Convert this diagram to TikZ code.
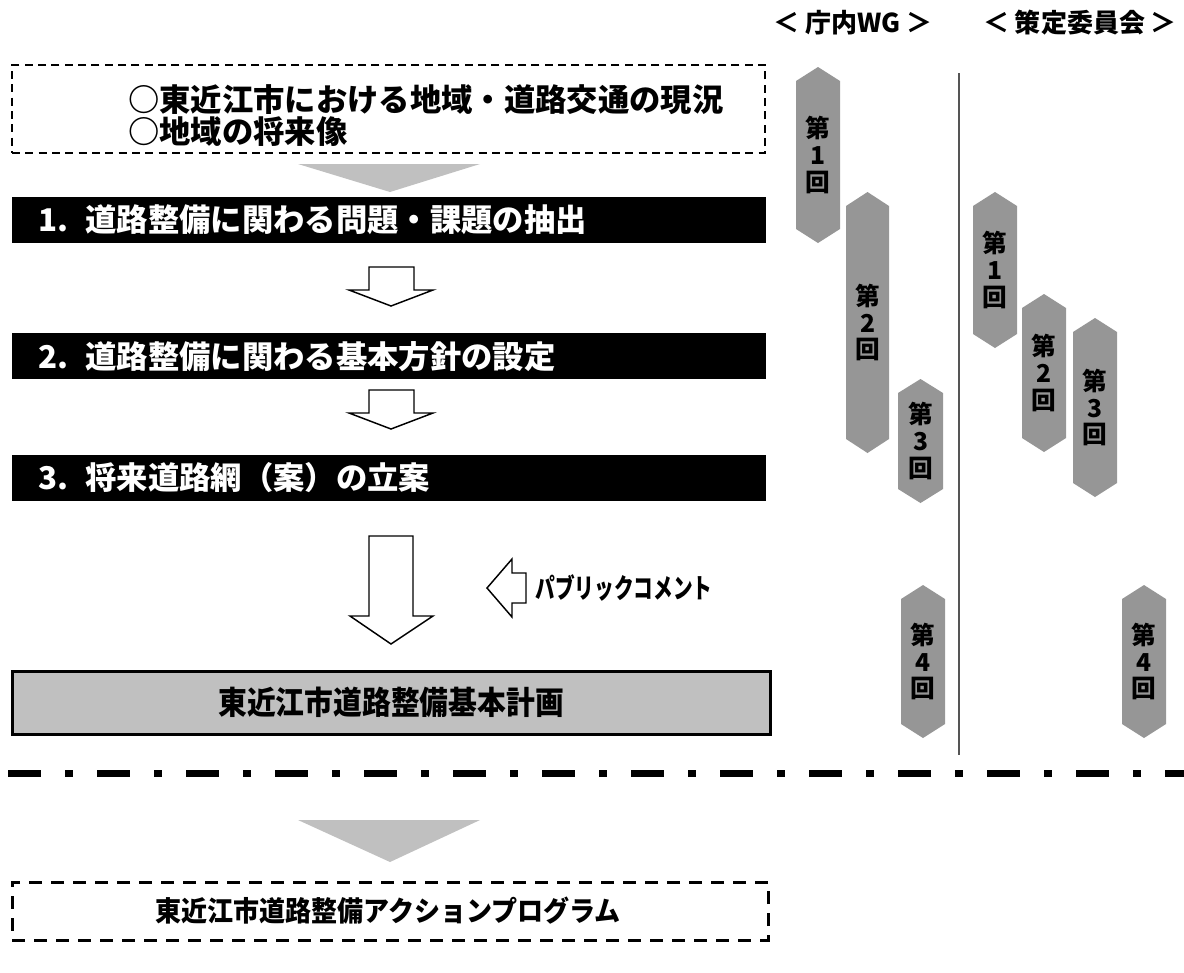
\documentclass[tikz,border=0pt]{standalone}
\usepackage{fontspec}
\setmainfont{Noto Sans CJK JP}
\definecolor{lgray}{HTML}{C0C0C0}
\definecolor{hgray}{HTML}{969696}
\definecolor{sepgray}{HTML}{555555}
\newcommand{\hexa}[6]{%
  \fill[hgray] (#2,#4+14) -- ({(#2+#3)/2},#4) -- (#3,#4+14) -- (#3,#5-14) -- ({(#2+#3)/2},#5) -- (#2,#5-14) -- cycle;
  \node[hextext] (#1) at ({(#2+#3)/2},{(#4+#5)/2}) {第\\#6\\回};}
\tikzset{
  jp/.style={inner sep=0pt, font=\fontsize{#1}{#1}\selectfont\bfseries},
  hextext/.style={inner sep=0pt, align=center, font=\fontsize{18.5pt}{20pt}\selectfont\bfseries},
  barbox/.style={fill=black, draw=black, minimum width=564.75pt, minimum height=33.75pt, inner sep=0pt},
  blockarrow/.style={draw=black, fill=white, line width=1.1pt, line join=miter},
}
\begin{document}
\begin{tikzpicture}[x=0.75pt,y=-0.75pt]
\useasboundingbox (0,0) rectangle (1184,972);

% headers
\node[jp=19.5pt] (hwg) at (853,23) {＜ 庁内WG ＞};
\node[jp=19.5pt] (hcm) at (1080,23) {＜ 策定委員会 ＞};

% top dashed box
\node[draw, line width=1.1pt, dash pattern=on 6pt off 4pt, minimum width=564.75pt, minimum height=66pt, inner sep=0pt] (top) at (388.5,109) {};
\node[jp=23.5pt, anchor=west] (t1) at (128,100) {○東近江市における地域・道路交通の現況};
\node[jp=23.5pt, anchor=west] (t2) at (128,132) {○地域の将来像};

\fill[lgray] (298,164) -- (480,164) -- (390,192) -- cycle;

% bars
\node[barbox] (b1) at (388.5,219.5) {};
\node[jp=23.5pt, anchor=west, text=white] (b1t) at (38,220) {1.\hspace{0.55em}道路整備に関わる問題・課題の抽出};
\node[barbox] (b2) at (388.5,356) {};
\node[jp=23.5pt, anchor=west, text=white] (b2t) at (38,357) {2.\hspace{0.55em}道路整備に関わる基本方針の設定};
\node[barbox] (b3) at (388.5,477.5) {};
\node[jp=23.5pt, anchor=west, text=white] (b3t) at (38,478) {3.\hspace{0.55em}将来道路網（案）の立案};

% block arrows
\draw[blockarrow] (369,267) -- (414,267) -- (414,290) -- (433,290) -- (391,306) -- (349,290) -- (369,290) -- cycle;
\draw[blockarrow] (369,390) -- (414,390) -- (414,413) -- (433,413) -- (391,429) -- (349,413) -- (369,413) -- cycle;
\draw[blockarrow] (369,536) -- (413,536) -- (413,616) -- (433,616) -- (391,644) -- (350,616) -- (369,616) -- cycle;
\draw[blockarrow] (487,588) -- (512,559) -- (512,573) -- (526,573) -- (526,603) -- (512,603) -- (512,617) -- cycle;
\node[inner sep=0pt, font=\fontsize{20.5pt}{20.5pt}\selectfont\bfseries] (pc) at (624,588) {\scalebox{0.72}[1]{パブリックコメント}};

% final plan box
\node[draw=black, fill=lgray, line width=2.25pt, minimum width=568.5pt, minimum height=47.25pt, inner sep=0pt] (plan) at (391,702.5) {};
\node[inner sep=0pt, font=\fontsize{24pt}{24pt}\selectfont\bfseries] (plant) at (391,702) {\scalebox{0.9}[1]{東近江市道路整備基本計画}};

% separator
\draw[sepgray, line width=1.1pt] (959,73) -- (959,755);

% hexagons
\hexa{w1}{796}{840}{67}{243}{1}
\hexa{w2}{846}{889}{192}{453}{2}
\hexa{w3}{898}{943}{379}{503}{3}
\hexa{w4}{901}{945}{585}{738}{4}
\hexa{c1}{973}{1017}{192}{348}{1}
\hexa{c2}{1022}{1066}{294}{452}{2}
\hexa{c3}{1073}{1117}{318}{497}{3}
\hexa{c4}{1122}{1166}{585}{738}{4}

% dash-dot line
\draw[line width=5.25pt, dash pattern=on 24.75pt off 18pt on 6pt off 18pt] (8,773) -- (1184,773);

% bottom
\fill[lgray] (298,820) -- (480,820) -- (390,862) -- cycle;
\node[draw, line width=2.25pt, dash pattern=on 10pt off 6.5pt, minimum width=567pt, minimum height=43.5pt, inner sep=0pt] (ap) at (390,911) {};
\node[inner sep=0pt, font=\fontsize{21pt}{21pt}\selectfont\bfseries] (apt) at (388,911) {\scalebox{0.93}[1]{東近江市道路整備アクションプログラム}};
\end{tikzpicture}
\end{document}
